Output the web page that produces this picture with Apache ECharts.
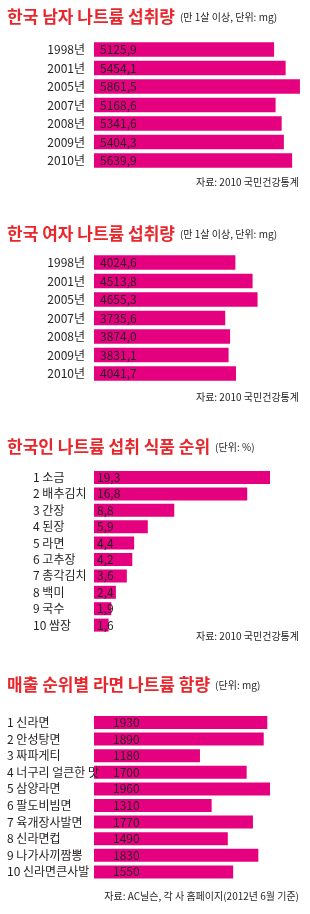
<!DOCTYPE html>
<html>
<head>
<meta charset="utf-8">
<script src="https://cdn.jsdelivr.net/npm/echarts@6/dist/echarts.min.js"></script>
<style>
  body { margin: 0; background: #fff; }
  #main { width: 310px; height: 914px; }
</style>
</head>
<body>
<div id="main"></div>
<script>
// 데이터
const years = ["1998년", "2001년", "2005년", "2007년", "2008년", "2009년", "2010년"];
const maleSodium = [5125.9, 5454.1, 5861.5, 5168.6, 5341.6, 5404.3, 5639.9];
const femaleSodium = [4024.6, 4513.8, 4655.3, 3735.6, 3874.0, 3831.1, 4041.7];
const foodNames = ["1 소금", "2 배추김치", "3 간장", "4 된장", "5 라면", "6 고추장", "7 총각김치", "8 백미", "9 국수", "10 쌈장"];
const foodShare = [19.3, 16.8, 8.8, 5.9, 4.4, 4.2, 3.6, 2.4, 1.9, 1.6];
const ramenNames = ["1 신라면", "2 안성탕면", "3 짜파게티", "4 너구리 얼큰한 맛", "5 삼양라면", "6 팔도비빔면", "7 육개장사발면", "8 신라면컵", "9 나가사끼짬뽕", "10 신라면큰사발"];
const ramenSodium = [1930, 1890, 1180, 1700, 1960, 1310, 1770, 1490, 1830, 1550];

const FONT = "'Liberation Sans Narrow', 'Noto Sans CJK KR', sans-serif";
const BAR = "#e5007f";
const RED = "#e8262b";
const INK = "#231f20";

function dec(v) {
  return v.toFixed(1).replace(".", ",");
}

function makeTitle(main, sub, top) {
  return {
    text: "{t|" + main + "} {s|" + sub + "}",
    left: 7,
    top: top,
    padding: 0,
    textStyle: {
      fontWeight: "normal",
      rich: {
        t: { fontFamily: "'Noto Sans CJK KR', sans-serif", fontSize: 17, fontWeight: "bold", color: RED, verticalAlign: "middle", lineHeight: 20 },
        s: { fontFamily: FONT, fontSize: 10, fontWeight: "normal", color: INK, verticalAlign: "middle", lineHeight: 20 }
      }
    }
  };
}

function makeSource(text, top) {
  return {
    text: text,
    right: 11,
    top: top,
    padding: 0,
    textStyle: { fontFamily: FONT, fontSize: 10, fontWeight: "normal", color: INK, lineHeight: 12 }
  };
}

function yAxisOf(idx, data, margin, align) {
  return {
    type: "category",
    gridIndex: idx,
    data: data,
    inverse: true,
    z: 10,
    axisLine: { show: false },
    axisTick: { show: false },
    axisLabel: { fontFamily: FONT, fontSize: 12, color: INK, margin: margin, align: align }
  };
}

function barSeries(idx, data, labelDist, fmt, barWidth) {
  return {
    type: "bar",
    xAxisIndex: idx,
    yAxisIndex: idx,
    data: data,
    barWidth: barWidth,
    z: 1,
    itemStyle: { color: BAR },
    label: {
      show: true,
      position: "insideLeft",
      distance: labelDist,
      fontFamily: FONT,
      fontSize: 12,
      color: INK,
      formatter: p => fmt(p.value)
    }
  };
}

const myChart = echarts.init(document.getElementById("main"));
myChart.setOption({
  animation: false,
  title: [
    makeTitle("한국 남자 나트륨 섭취량", "(만 1살 이상, 단위: mg)", 7),
    makeTitle("한국 여자 나트륨 섭취량", "(만 1살 이상, 단위: mg)", 224),
    makeTitle("한국인 나트륨 섭취 식품 순위", "(단위: %)", 437),
    makeTitle("매출 순위별 라면 나트륨 함량", "(단위: mg)", 675),
    makeSource("자료: 2010 국민건강통계", 176),
    makeSource("자료: 2010 국민건강통계", 391),
    makeSource("자료: 2010 국민건강통계", 630),
    makeSource("자료: AC닐슨, 각 사 홈페이지(2012년 6월 기준)", 890)
  ],
  grid: [
    { left: 94, top: 40.3, width: 210.8, height: 129.5 },
    { left: 94, top: 253.3, width: 210.8, height: 129.5 },
    { left: 94, top: 469.3, width: 182.4, height: 164 },
    { left: 94, top: 714.2, width: 179.6, height: 166 }
  ],
  xAxis: [
    { type: "value", gridIndex: 0, min: 0, max: 6000, show: false },
    { type: "value", gridIndex: 1, min: 0, max: 6000, show: false },
    { type: "value", gridIndex: 2, min: 0, max: 20, show: false },
    { type: "value", gridIndex: 3, min: 0, max: 2000, show: false }
  ],
  yAxis: [
    yAxisOf(0, years, 9, "right"),
    yAxisOf(1, years, 9, "right"),
    yAxisOf(2, foodNames, 61, "left"),
    yAxisOf(3, ramenNames, 87, "left")
  ],
  series: [
    barSeries(0, maleSodium, 6, dec, 14.5),
    barSeries(1, femaleSodium, 6, dec, 14.5),
    barSeries(2, foodShare, 3, dec, 13),
    barSeries(3, ramenSodium, 19, v => String(v), 13)
  ]
});
</script>
</body>
</html>
